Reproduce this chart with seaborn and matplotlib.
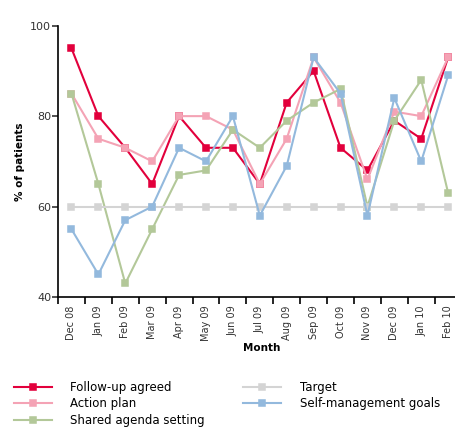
import matplotlib
matplotlib.use("Agg")
import matplotlib.pyplot as plt
import seaborn as sns
import pandas as pd
from matplotlib.ticker import FixedLocator

months = ["Dec 08", "Jan 09", "Feb 09", "Mar 09", "Apr 09", "May 09", "Jun 09", "Jul 09",
          "Aug 09", "Sep 09", "Oct 09", "Nov 09", "Dec 09", "Jan 10", "Feb 10"]
follow_up = [95, 80, 73, 65, 80, 73, 73, 65, 83, 90, 73, 68, 79, 75, 93]
action_plan = [85, 75, 73, 70, 80, 80, 77, 65, 75, 93, 83, 66, 81, 80, 93]
shared_agenda = [85, 65, 43, 55, 67, 68, 77, 73, 79, 83, 86, 60, 79, 88, 63]
target = [60] * 15
self_mgmt = [55, 45, 57, 60, 73, 70, 80, 58, 69, 93, 85, 58, 84, 70, 89]

series_names = ["Follow-up agreed", "Action plan", "Shared agenda setting",
                "Target", "Self-management goals"]
colors = ["#E2003C", "#F4A3B5", "#B3C899", "#D4D4D4", "#93B9DD"]

rows = []
for name, vals in zip(series_names, [follow_up, action_plan, shared_agenda, target, self_mgmt]):
    for m, v in zip(months, vals):
        rows.append({"Month": m, "pct": v, "series": name})
df = pd.DataFrame(rows)

fig = plt.figure(figsize=(4.55, 4.28), dpi=100)
ax = fig.add_axes([0.1275, 0.306, 0.887, 0.634])

sns.pointplot(data=df, x="Month", y="pct", hue="series", order=months,
              hue_order=series_names, palette=colors, markers="s",
              markersize=4, linewidth=1.5, errorbar=None, ax=ax)

# stacking: target at the bottom
zorders = {"Target": 1, "Shared agenda setting": 2, "Self-management goals": 3,
           "Action plan": 4, "Follow-up agreed": 5}
for line in ax.lines:
    lab = line.get_label()
    if lab in zorders:
        line.set_zorder(zorders[lab])
for coll, name in zip(ax.collections, series_names):
    coll.set_zorder(zorders[name])

ax.set_xlim(-0.5, 14.5)
ax.set_ylim(40, 100)
ax.set_yticks([40, 60, 80, 100])
ax.tick_params(axis="y", labelsize=8, length=4, width=1.2, pad=1, colors="#333333")
ax.tick_params(axis="x", which="major", length=0, labelsize=7, labelrotation=90, pad=6,
               colors="#333333")
ax.xaxis.set_minor_locator(FixedLocator([i - 0.5 for i in range(16)]))
ax.tick_params(axis="x", which="minor", length=5, width=1.2, color="black")

sns.despine(ax=ax, top=True, right=True)
ax.spines["left"].set_linewidth(1.2)
ax.spines["bottom"].set_linewidth(1.2)

ax.set_ylabel("% of patients", fontsize=7.5, fontweight="bold", labelpad=4)
ax.set_xlabel("Month", fontsize=7.5, fontweight="bold")
ax.xaxis.set_label_coords(0.505, -0.17)

handles, labels = ax.get_legend_handles_labels()
ax.get_legend().remove()
fig.legend(handles, labels, ncol=2, loc="upper left", bbox_to_anchor=(0.02, 0.121),
           frameon=False, fontsize=8.5, handlelength=3.2, handletextpad=1.6,
           columnspacing=3.2, labelspacing=0.3, borderaxespad=0)

fig.savefig("out.png", dpi=100)
